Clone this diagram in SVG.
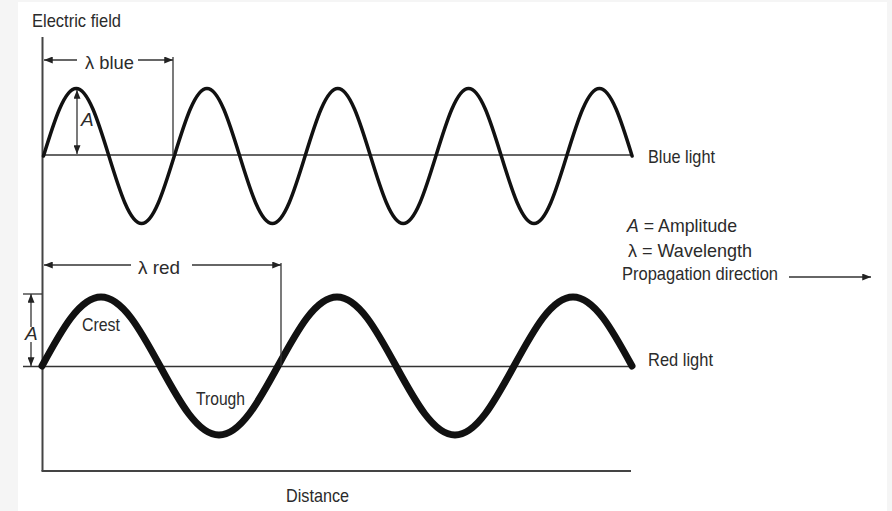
<svg xmlns="http://www.w3.org/2000/svg" width="892" height="511" viewBox="0 0 892 511">
<style>
text{font-family:"Liberation Sans",Arial,sans-serif;font-size:19px;fill:#2b2b2b}
.it{font-style:italic}
.ax{stroke:#444;stroke-width:2;fill:none}
.base{stroke:#333;stroke-width:1.5;fill:none}
.thin{stroke:#333;stroke-width:1.3;fill:none}
.wave{fill:none;stroke:#111;stroke-linecap:round;stroke-linejoin:round}
</style>
<defs>
<marker id="ah" viewBox="0 0 10 8" refX="10" refY="4" markerWidth="9" markerHeight="7" markerUnits="userSpaceOnUse" orient="auto-start-reverse">
<path d="M0,0 L10,4 L0,8 Z" fill="#222"/>
</marker>
</defs>
<rect x="0" y="0" width="892" height="511" fill="#f5f5f5"/>
<rect x="18" y="2" width="869" height="509" fill="#ffffff"/>

<g id="axes">
<line class="ax" x1="42.5" y1="37" x2="42.5" y2="471"/>
<line class="ax" x1="41.5" y1="471" x2="631" y2="471"/>
<text x="32" y="27" textLength="89" lengthAdjust="spacingAndGlyphs">Electric field</text>
<text x="286" y="502" textLength="63" lengthAdjust="spacingAndGlyphs">Distance</text>
</g>

<g id="blue-wave">
<line class="base" x1="42" y1="155" x2="631" y2="155"/>
<path class="wave" stroke-width="3.5" d="M43.5,156 c10.66,-34.58 20.87,-67.5 32.7,-67.5
s22.04,32.92 32.7,67.5 s20.87,67.5 32.7,67.5 s22.04,-32.92 32.7,-67.5 s20.87,-67.5 32.7,-67.5
s22.04,32.92 32.7,67.5 s20.87,67.5 32.7,67.5 s22.04,-32.92 32.7,-67.5 s20.87,-67.5 32.7,-67.5
s22.04,32.92 32.7,67.5 s20.87,67.5 32.7,67.5 s22.04,-32.92 32.7,-67.5 s20.87,-67.5 32.7,-67.5
s22.04,32.92 32.7,67.5 s20.87,67.5 32.7,67.5 s22.04,-32.92 32.7,-67.5 s20.87,-67.5 32.7,-67.5
s22.04,32.92 32.7,67.5"/>
<text x="648" y="163" textLength="67" lengthAdjust="spacingAndGlyphs">Blue light</text>
<text class="it" x="81" y="126" font-size="16">A</text>
</g>

<g id="red-wave">
<line class="base" x1="23" y1="366.5" x2="631" y2="366.5"/>
<line class="thin" x1="23" y1="294" x2="42" y2="294"/>
<path class="wave" stroke-width="7" d="M42,366 c19.24,-35.35 37.65,-69 59,-69
s39.76,33.65 59,69 s37.65,69 59,69 s39.76,-33.65 59,-69 s37.65,-69 59,-69
s39.76,33.65 59,69 s37.65,69 59,69 s39.76,-33.65 59,-69 s37.65,-69 59,-69
s39.76,33.65 59,69"/>
<text x="648" y="366" textLength="65" lengthAdjust="spacingAndGlyphs">Red light</text>
<text x="82" y="331" textLength="38" lengthAdjust="spacingAndGlyphs">Crest</text>
<text x="196" y="405" textLength="49" lengthAdjust="spacingAndGlyphs">Trough</text>
<text class="it" x="25" y="340" font-size="17">A</text>
</g>

<g id="legend">
<text x="627" y="231.5" textLength="110" lengthAdjust="spacingAndGlyphs"><tspan class="it">A</tspan> = Amplitude</text>
<text x="628" y="256.5" textLength="124" lengthAdjust="spacingAndGlyphs">λ = Wavelength</text>
<text x="622" y="280" textLength="156" lengthAdjust="spacingAndGlyphs">Propagation direction</text>
</g>

<g id="lambda-labels">
<text x="85" y="69" textLength="49" lengthAdjust="spacingAndGlyphs">λ blue</text>
<text x="138" y="274" textLength="42" lengthAdjust="spacingAndGlyphs">λ red</text>
</g>

<g id="connectors">
<line class="thin" x1="77" y1="60" x2="44" y2="60" marker-end="url(#ah)"/>
<line class="thin" x1="138" y1="60" x2="173" y2="60" marker-end="url(#ah)"/>
<line class="thin" x1="173" y1="57" x2="173" y2="155"/>
<line class="thin" x1="77" y1="90" x2="77" y2="154" marker-start="url(#ah)" marker-end="url(#ah)"/>
<line class="thin" x1="131" y1="265" x2="44" y2="265" marker-end="url(#ah)"/>
<line class="thin" x1="192" y1="265" x2="281" y2="265" marker-end="url(#ah)"/>
<line class="thin" x1="281" y1="263" x2="281" y2="366"/>
<line class="thin" x1="31" y1="327" x2="31" y2="294" marker-end="url(#ah)"/>
<line class="thin" x1="31" y1="342" x2="31" y2="366" marker-end="url(#ah)"/>
<line class="thin" x1="789" y1="277" x2="871" y2="277" marker-end="url(#ah)"/>
</g>
</svg>
